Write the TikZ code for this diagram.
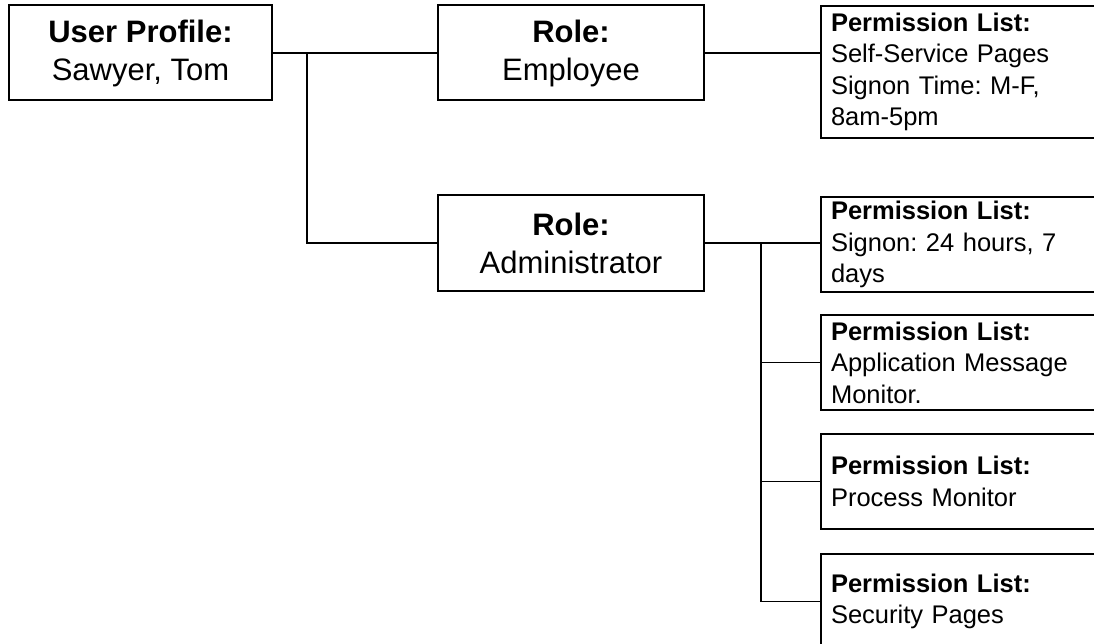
\documentclass[tikz,border=0pt]{standalone}
\usepackage{fontspec}
\setmainfont{Liberation Sans}
\frenchspacing
\begin{document}
\begin{tikzpicture}[x=1pt,y=-1pt,
  box/.style={draw=black, line width=2pt, inner sep=0pt, align=center,
    minimum height=95, font=\fontsize{31}{38}\selectfont},
  permbox/.style={draw=black, line width=2pt, anchor=north west,
    inner xsep=10pt, inner ysep=0pt, minimum width=300, text width=280,
    align=left, minimum height=95, font=\fontsize{25.5}{31.5}\selectfont},
  link/.style={draw=black, line width=1.1pt}]
\useasboundingbox (0,0) rectangle (1094,644);
\clip (0,0) rectangle (1094,644);

% user profile and its roles
\node[box, minimum width=263] (user) at (140.5,53) {\bfseries User Profile:\\Sawyer, Tom};
\node[box, minimum width=266] (emp) at (571,53) {\bfseries Role:\\Employee};
\node[box, minimum width=266] (adm) at (571,243) {\bfseries Role:\\Administrator};

% permission lists
\node[permbox, minimum height=132] (p1) at (820,5)
  {\textbf{Permission List:}\\Self-Service Pages\\Signon Time: M-F,\\8am-5pm};
\node[permbox] (p2) at (820,196)
  {\textbf{Permission List:}\\Signon: 24 hours, 7\\days};
\node[permbox] (p3) at (820,314)
  {\textbf{Permission List:}\\Application Message\\Monitor.};
\node[permbox] (p4) at (820,433)
  {\textbf{Permission List:}\\Process Monitor};
\node[permbox] (p5) at (820,553)
  {\textbf{Permission List:}\\Security Pages};

% connectors
\coordinate (j1) at (307,53);
\coordinate (j2) at (761,243);
\draw[link] (user.east) -- (emp.west);
\draw[link] (j1) |- (adm.west);
\draw[link] (emp.east) -- (emp.east -| p1.west);
\draw[link] (adm.east) -- (adm.east -| p2.west);
\draw[link] (j2) |- (p3.west);
\draw[link] (j2) |- (p4.west);
\draw[link] (j2) |- (p5.west);
\end{tikzpicture}
\end{document}
